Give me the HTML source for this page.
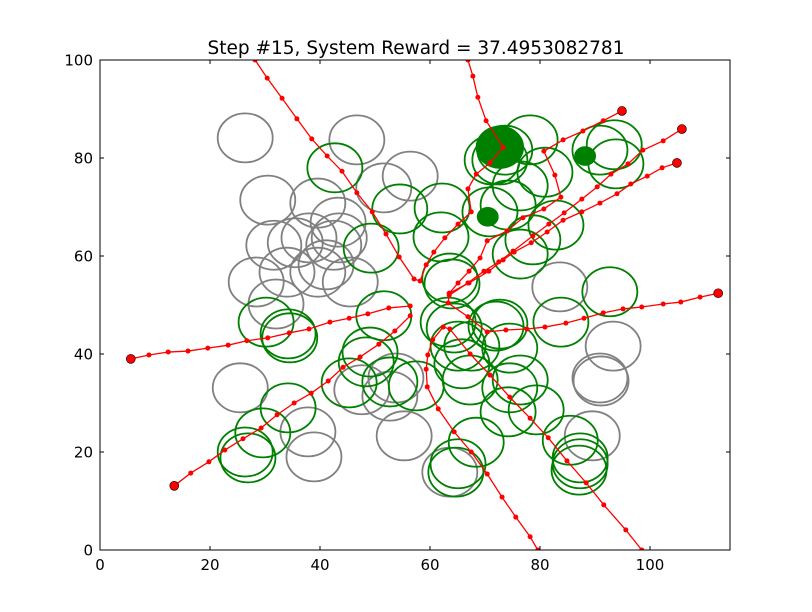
<!DOCTYPE html>
<html><head><meta charset="utf-8"><style>
html,body{margin:0;padding:0;background:#fff;}
svg{display:block;font-family:"DejaVu Sans","Liberation Sans",sans-serif;}
</style></head><body>
<svg id="chart" width="812" height="612" viewBox="0 0 812 612" xmlns="http://www.w3.org/2000/svg">
<rect x="0" y="0" width="812" height="612" fill="#fff"/>
<defs><clipPath id="plotclip"><rect x="100" y="60" width="630" height="490"/></clipPath></defs>
<text x="416" y="54" font-size="18.5" text-anchor="middle">Step #15, System Reward = 37.4953082781</text>
<g id="marks" clip-path="url(#plotclip)"></g>
<rect x="100" y="60" width="630" height="490" fill="none" stroke="#000" stroke-width="1"/>
<g id="axes"></g>
</svg>
<script>
const xTicks=[0,20,40,60,80,100];
const yTicks=[0,20,40,60,80,100];
const grayX=[26.4,46.7,56.4,30.5,39.6,51.6,43.3,31.6,35.5,38.0,43.5,41.1,28.4,34.0,39.6,45.5,32.0,47.6,53.8,52.7,55.3,25.5,37.8,38.9,63.6,89.5,90.9,93.3,91.1,83.6,42.5];
const grayY=[84.1,83.7,76.3,71.4,70.8,73.9,66.9,62.2,62.7,63.7,63.7,58.2,54.7,56.7,56.7,54.7,50.2,32.7,35.1,31.4,23.3,33.1,24.1,19.0,15.9,23.3,35.1,41.6,34.5,53.7,62.2];
const greenX=[42.7,30.2,34.2,34.5,49.3,51.6,49.1,48.4,45.3,52.7,57.5,54.5,62.2,62.0,63.6,64.0,63.3,64.4,65.1,67.6,67.3,65.8,72.0,72.7,74.5,76.4,74.5,74.2,79.3,68.4,65.1,64.7,73.6,72.7,78.2,76.4,74.2,70.9,80.9,82.9,76.4,78.7,83.8,92.7,85.5,87.3,87.3,87.1,93.5,93.8,29.6,26.4,26.9,34.2,71.3,90.9];
const greenY=[78.0,46.5,44.1,43.3,61.6,47.8,40.4,38.4,34.1,34.3,33.5,69.6,69.8,63.9,55.5,54.3,46.5,45.3,41.6,41.6,34.7,38.0,45.7,46.1,41.2,34.7,33.1,28.2,28.6,22.0,17.6,15.9,81.6,79.6,83.7,74.3,70.4,69.0,77.1,66.3,60.4,63.3,46.5,52.7,22.4,17.6,18.8,16.3,82.7,78.8,23.9,20.0,18.8,29.0,79.6,81.6];
const circleR=5;
const filledX=[72.7,70.5,88.2];
const filledY=[82.2,68.0,80.4];
const filledR=[4.3,1.9,1.9];
const trajX=[
[28.2,30.4,33.1,35.8,38.5,41.3,44.0,46.7,49.5,52.0,54.4,57.1,58.2,59.3,60.7,62.7,65.1,67.5,66.9,68.4,70.9,73.3,70.2,68.7,67.8,66.9],
[94.9,91.5,87.8,84.2,80.7,82.7,83.8,80.7,76.9,74.0,70.4,69.1,67.1,65.1,63.5,63.3,66.9,70.4,73.8,77.6,80.9,84.7,88.0,91.5,95.1,98.5,102.4,105.6,109.1,112.4],
[105.8,102.4,98.7,96.0,92.9,90.4,87.6,84.4,81.6,78.7,75.1,72.5,69.8,66.9,63.5],
[104.9,102.2,99.5,96.5,94.0,90.9,87.6,84.2,81.3,78.4,75.3,73.3,70.7,67.1,63.5],
[5.6,8.9,12.4,16.0,19.6,23.3,26.7,30.5,34.4,38.0,41.8,45.3,48.7,52.5,56.4],
[13.5,16.5,19.8,22.7,26.0,29.3,32.2,35.3,38.4,41.5,44.2,47.3,50.7,53.6,56.4],
[79.6,78.2,75.6,73.1,70.4,67.5,64.4,61.5,59.5,59.3,59.6,60.5,62.4,63.6,67.3,70.9,74.5,78.2,81.5,84.9,88.4,91.6,95.6,98.5]
];
const trajY=[
[100.0,96.3,92.2,88.0,83.9,80.4,77.3,72.9,69.0,64.5,59.8,55.3,54.9,58.2,60.8,63.7,66.5,69.0,73.7,76.7,79.0,82.2,87.6,92.4,96.7,100.0],
[89.6,87.6,85.5,83.7,81.4,76.5,72.0,69.6,67.8,65.1,63.1,59.6,56.9,54.5,52.4,50.4,47.6,44.5,44.9,45.1,45.5,46.3,47.3,48.4,49.2,49.6,50.2,50.6,51.6,52.4],
[85.9,83.5,81.6,78.8,76.7,74.1,71.6,68.8,66.5,64.1,61.0,58.8,56.9,54.5,52.0],
[79.0,78.0,76.3,74.7,72.7,70.8,69.0,67.3,64.9,62.7,60.8,59.2,56.9,54.5,52.4],
[39.0,39.8,40.4,40.6,41.2,41.8,42.7,43.3,44.3,45.1,46.5,47.3,48.2,49.4,49.8],
[13.1,15.7,18.0,20.4,22.7,24.9,27.6,30.0,32.0,34.5,37.3,39.4,42.0,44.7,47.8],
[0,2.7,6.7,10.8,15.5,20.0,24.1,28.8,33.3,36.9,39.8,42.9,45.5,45.1,40.0,35.7,31.2,26.9,22.9,18.2,13.7,9.2,4.1,0]
];
const endX=[94.9,112.4,105.8,104.9,5.6,13.5];
const endY=[89.6,52.4,85.9,79.0,39.0,13.1];

const X0=100,X1=730,XMAX=114.545,Y0=550,Y1=60,YMAX=100;
const sx=v=>X0+v/XMAX*(X1-X0);
const sy=v=>Y0-v/YMAX*(Y0-Y1);
const NS="http://www.w3.org/2000/svg";
const marks=document.getElementById('marks');
const axes=document.getElementById('axes');
function mk(tag,attrs,parent){const e=document.createElementNS(NS,tag);for(const k in attrs)e.setAttribute(k,attrs[k]);parent.appendChild(e);return e;}
const rx=circleR/XMAX*(X1-X0), ry=circleR/YMAX*(Y0-Y1);
for(let i=0;i<grayX.length;i++){
  const e=mk('ellipse',{cx:sx(grayX[i]),cy:sy(grayY[i]),rx:rx,ry:ry,fill:'none',stroke:'#808080','stroke-width':1.8},marks);
  
  
}
for(let i=0;i<greenX.length;i++){
  const e=mk('ellipse',{cx:sx(greenX[i]),cy:sy(greenY[i]),rx:rx,ry:ry,fill:'none',stroke:'#008000','stroke-width':1.8},marks);
  
  
}
for(let i=0;i<filledX.length;i++){
  const e=mk('ellipse',{cx:sx(filledX[i]),cy:sy(filledY[i]),rx:filledR[i]/XMAX*(X1-X0),ry:filledR[i]/YMAX*(Y0-Y1),fill:'#008000',stroke:'#008000','stroke-width':1},marks);
  
  
}
for(let t=0;t<trajX.length;t++){
  const pts=trajX[t].map((x,i)=>sx(x)+','+sy(trajY[t][i])).join(' ');
  const pl=mk('polyline',{points:pts,fill:'none',stroke:'#ff0000','stroke-width':1.3},marks);
  
  
  for(let i=0;i<trajX[t].length;i++){
    const c=mk('circle',{cx:sx(trajX[t][i]),cy:sy(trajY[t][i]),r:2.5,fill:'#ff0000'},marks);
    
    
  }
}
for(let i=0;i<endX.length;i++){
  const c=mk('circle',{cx:sx(endX[i]),cy:sy(endY[i]),r:4.5,fill:'#ff0000',stroke:'#000','stroke-width':0.6},marks);
  
  
}
for(const v of xTicks){
  const x=sx(v);
  const a=mk('line',{x1:x,y1:Y0,x2:x,y2:Y0-4,stroke:'#000'},axes);
  
  const b=mk('line',{x1:x,y1:Y1,x2:x,y2:Y1+4,stroke:'#000'},axes);
  
  const t=mk('text',{x:x,y:Y0+20,'font-size':15,'text-anchor':'middle'},axes);
  t.textContent=v;
  
}
for(const v of yTicks){
  const y=sy(v);
  const a=mk('line',{x1:X0,y1:y,x2:X0+4,y2:y,stroke:'#000'},axes);
  
  const b=mk('line',{x1:X1,y1:y,x2:X1-4,y2:y,stroke:'#000'},axes);
  
  const t=mk('text',{x:X0-7,y:y+5.5,'font-size':15,'text-anchor':'end'},axes);
  t.textContent=v;
  
}
</script>
</body></html>
